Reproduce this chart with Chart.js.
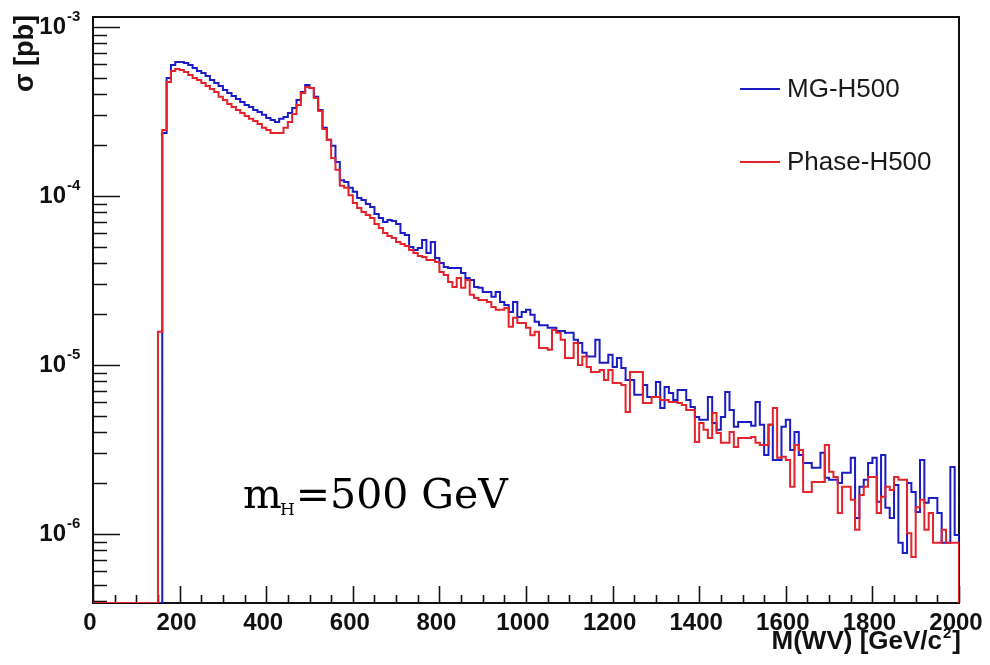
<!DOCTYPE html>
<html lang="en">
<head>
<meta charset="UTF-8">
<title>M(WV) spectrum, mH = 500 GeV</title>
<script src="https://cdn.jsdelivr.net/npm/chart.js"></script>
<style>
  html, body { margin: 0; padding: 0; background: #fff; }
</style>
</head>
<body>
<canvas id="chart" width="990" height="665"></canvas>
<script>
// histogram binning: 200 bins of 10 GeV from 0 to 2000
const binWidth = 10;
const xMin = 0, xMax = 2000;
const yMin = 3.9e-7, yMax = 1.146e-3;

const xTicks = [0, 200, 400, 600, 800, 1000, 1200, 1400, 1600, 1800, 2000];
const yTickExps = [-3, -4, -5, -6];

// sigma [pb] per bin, MadGraph
const mgH500 = [
  0, 0, 0, 0, 0, 0, 0, 0, 0, 0,
  0, 0, 0, 0, 0, 0, 2.36e-4, 4.99e-4, 5.96e-4, 6.21e-4,
  6.21e-4, 6.12e-4, 5.96e-4, 5.72e-4, 5.49e-4, 5.34e-4, 5.13e-4, 4.86e-4, 4.66e-4, 4.48e-4,
  4.24e-4, 4.07e-4, 3.91e-4, 3.75e-4, 3.60e-4, 3.46e-4, 3.36e-4, 3.23e-4, 3.14e-4, 3.02e-4,
  2.89e-4, 2.82e-4, 2.74e-4, 2.86e-4, 2.93e-4, 3.10e-4, 3.32e-4, 3.70e-4, 4.13e-4, 4.54e-4,
  4.36e-4, 3.86e-4, 3.23e-4, 2.53e-4, 2.15e-4, 1.98e-4, 1.59e-4, 1.24e-4, 1.21e-4, 1.12e-4,
  1.06e-4, 9.73e-5, 9.47e-5, 8.97e-5, 8.61e-5, 7.82e-5, 7.41e-5, 7.02e-5, 7.21e-5, 7.11e-5,
  6.83e-5, 6.04e-5, 5.88e-5, 4.99e-5, 4.79e-5, 4.92e-5, 5.49e-5, 4.60e-5, 5.34e-5, 4.30e-5,
  4.01e-5, 3.80e-5, 3.75e-5, 3.75e-5, 3.75e-5, 3.50e-5, 3.27e-5, 3.18e-5, 2.89e-5, 2.86e-5,
  2.70e-5, 2.70e-5, 2.53e-5, 2.70e-5, 2.36e-5, 2.26e-5, 2.06e-5, 2.36e-5, 1.92e-5, 2.06e-5,
  2.12e-5, 1.98e-5, 1.80e-5, 1.72e-5, 1.72e-5, 1.66e-5, 1.66e-5, 1.59e-5, 1.59e-5, 1.55e-5,
  1.55e-5, 1.41e-5, 1.35e-5, 1.18e-5, 1.12e-5, 1.12e-5, 1.41e-5, 1.03e-5, 1.03e-5, 1.15e-5,
  9.73e-6, 1.10e-5, 9.60e-6, 8.15e-6, 8.15e-6, 6.65e-6, 6.65e-6, 7.61e-6, 6.47e-6, 6.47e-6,
  7.93e-6, 5.57e-6, 7.41e-6, 6.83e-6, 6.21e-6, 7.11e-6, 7.11e-6, 6.21e-6, 5.64e-6, 4.92e-6,
  4.73e-6, 4.73e-6, 6.47e-6, 4.54e-6, 4.13e-6, 4.92e-6, 6.92e-6, 5.42e-6, 4.30e-6, 4.60e-6,
  4.60e-6, 4.60e-6, 4.36e-6, 6.04e-6, 4.42e-6, 2.93e-6, 4.42e-6, 2.74e-6, 2.74e-6, 4.30e-6,
  4.73e-6, 3.14e-6, 4.01e-6, 2.93e-6, 2.63e-6, 2.63e-6, 2.46e-6, 2.46e-6, 3.02e-6, 2.15e-6,
  2.09e-6, 2.09e-6, 2.00e-6, 2.30e-6, 2.30e-6, 2.82e-6, 1.24e-6, 1.90e-6, 2.09e-6, 2.63e-6,
  2.82e-6, 1.55e-6, 2.93e-6, 1.43e-6, 1.24e-6, 1.95e-6, 8.85e-7, 7.72e-7, 2.00e-6, 1.77e-6,
  1.35e-6, 2.74e-6, 1.53e-6, 1.63e-6, 1.63e-6, 1.33e-6, 8.85e-7, 8.85e-7, 2.49e-6, 9.86e-7
];

// sigma [pb] per bin, Phantom
const phaseH500 = [
  0, 0, 0, 0, 0, 0, 0, 0, 0, 0,
  0, 0, 0, 0, 0, 1.57e-5, 2.46e-4, 4.73e-4, 5.49e-4, 5.64e-4,
  5.57e-4, 5.42e-4, 5.20e-4, 4.99e-4, 4.86e-4, 4.66e-4, 4.48e-4, 4.30e-4, 4.13e-4, 3.86e-4,
  3.70e-4, 3.50e-4, 3.36e-4, 3.23e-4, 3.10e-4, 2.97e-4, 2.86e-4, 2.78e-4, 2.67e-4, 2.53e-4,
  2.46e-4, 2.36e-4, 2.36e-4, 2.36e-4, 2.53e-4, 2.74e-4, 3.06e-4, 3.46e-4, 4.07e-4, 4.42e-4,
  4.36e-4, 3.80e-4, 3.18e-4, 2.49e-4, 2.15e-4, 1.68e-4, 1.43e-4, 1.15e-4, 1.12e-4, 1.01e-4,
  9.09e-5, 8.49e-5, 8.04e-5, 7.72e-5, 7.41e-5, 6.83e-5, 6.47e-5, 6.04e-5, 5.80e-5, 5.64e-5,
  5.34e-5, 5.20e-5, 5.06e-5, 4.79e-5, 4.60e-5, 4.42e-5, 4.36e-5, 4.18e-5, 4.18e-5, 4.07e-5,
  3.55e-5, 3.41e-5, 3.10e-5, 2.89e-5, 3.27e-5, 2.86e-5, 3.18e-5, 2.60e-5, 2.49e-5, 2.42e-5,
  2.42e-5, 2.36e-5, 2.20e-5, 2.12e-5, 2.12e-5, 2.17e-5, 1.68e-5, 1.90e-5, 1.77e-5, 1.77e-5,
  1.66e-5, 1.50e-5, 1.57e-5, 1.26e-5, 1.26e-5, 1.23e-5, 1.61e-5, 1.55e-5, 1.41e-5, 1.10e-5,
  1.10e-5, 1.35e-5, 1.00e-5, 1.12e-5, 9.73e-6, 9.09e-6, 9.09e-6, 9.34e-6, 8.15e-6, 9.34e-6,
  7.82e-6, 7.82e-6, 7.61e-6, 5.27e-6, 9.09e-6, 9.09e-6, 9.09e-6, 5.96e-6, 5.96e-6, 6.47e-6,
  6.47e-6, 6.21e-6, 6.21e-6, 6.04e-6, 6.04e-6, 5.96e-6, 5.80e-6, 5.42e-6, 5.42e-6, 3.50e-6,
  4.54e-6, 4.13e-6, 3.70e-6, 5.20e-6, 3.96e-6, 3.46e-6, 3.46e-6, 4.01e-6, 3.27e-6, 3.70e-6,
  3.70e-6, 3.70e-6, 3.75e-6, 3.46e-6, 3.36e-6, 3.36e-6, 4.42e-6, 5.57e-6, 2.82e-6, 2.86e-6,
  2.74e-6, 1.90e-6, 3.36e-6, 3.14e-6, 1.77e-6, 1.77e-6, 2.03e-6, 2.03e-6, 2.03e-6, 3.36e-6,
  2.33e-6, 2.17e-6, 1.33e-6, 1.90e-6, 1.90e-6, 1.59e-6, 1.06e-6, 1.70e-6, 1.90e-6, 2.17e-6,
  2.17e-6, 1.33e-6, 1.66e-6, 1.90e-6, 1.82e-6, 2.17e-6, 2.09e-6, 2.09e-6, 1.01e-6, 7.31e-7,
  1.44e-6, 1.59e-6, 1.06e-6, 1.33e-6, 8.85e-7, 8.85e-7, 1.06e-6, 8.85e-7, 8.85e-7, 8.85e-7
];

const blue = '#1c1cc4';
const red = '#e4232b';
const font = '"Liberation Sans", Arial, sans-serif';

// ROOT style outline: empty bins sit on the frame, and the contour closes at 2000
function histPoints(vals) {
  const pts = vals.map((v, i) => ({ x: i * binWidth, y: v > 0 ? v : yMin }));
  pts.push({ x: xMax, y: yMin });
  return pts;
}

const rootFrame = {
  id: 'rootFrame',
  beforeDatasetsDraw(chart) {
    const { ctx, chartArea: a, scales: { x, y } } = chart;
    ctx.save();
    ctx.strokeStyle = '#111';
    ctx.lineWidth = 2;
    ctx.strokeRect(a.left, a.top, a.right - a.left, a.bottom - a.top);

    ctx.lineWidth = 1.6;
    ctx.beginPath();
    for (let v = xMin; v <= xMax; v += 50) {
      const px = Math.round(x.getPixelForValue(v)) + 0.5;
      const len = v % 200 === 0 ? 17 : 8;
      ctx.moveTo(px, a.bottom);
      ctx.lineTo(px, a.bottom - len);
    }
    for (let e = -7; e <= -3; e++) {
      for (let m = 1; m <= 9; m++) {
        const v = m * Math.pow(10, e);
        if (v < yMin || v > yMax) continue;
        const py = Math.round(y.getPixelForValue(v)) + 0.5;
        const len = m === 1 ? 27 : 14;
        ctx.moveTo(a.left, py);
        ctx.lineTo(a.left + len, py);
      }
    }
    ctx.stroke();
    ctx.restore();
  },
  afterDraw(chart) {
    const { ctx, chartArea: a, scales: { x, y } } = chart;
    ctx.save();
    ctx.fillStyle = '#111';

    // x tick labels
    ctx.font = 'bold 24px ' + font;
    ctx.textAlign = 'center';
    ctx.textBaseline = 'middle';
    xTicks.forEach(v => ctx.fillText(String(v), x.getPixelForValue(v) - 3, 623));

    // y tick labels 10^n
    yTickExps.forEach(e => {
      const py = y.getPixelForValue(Math.pow(10, e));
      ctx.font = 'bold 24px ' + font;
      ctx.textAlign = 'right';
      ctx.fillText('10', 66, py);
      ctx.font = 'bold 15px ' + font;
      ctx.textAlign = 'left';
      ctx.fillText(String(e), 67, py - 10);
    });

    // x axis title, right aligned
    ctx.textAlign = 'right';
    ctx.textBaseline = 'alphabetic';
    ctx.font = 'bold 26px ' + font;
    ctx.fillText(']', a.right + 2, 649);
    const wBr = ctx.measureText(']').width;
    ctx.font = 'bold 15px ' + font;
    ctx.fillText('2', a.right + 1 - wBr, 638);
    const w2 = ctx.measureText('2').width;
    ctx.font = 'bold 26px ' + font;
    ctx.fillText('M(WV) [GeV/c', a.right - wBr - w2, 649);

    // y axis title, rotated
    ctx.save();
    ctx.translate(33, 15);
    ctx.rotate(-Math.PI / 2);
    ctx.textAlign = 'right';
    ctx.textBaseline = 'alphabetic';
    ctx.font = 'bold 27px ' + font;
    ctx.fillText('\u03c3 [pb]', 0, 0);
    ctx.restore();

    // legend
    const legend = [
      { label: 'MG-H500', color: blue, y: 89 },
      { label: 'Phase-H500', color: red, y: 162 }
    ];
    legend.forEach(item => {
      ctx.strokeStyle = item.color;
      ctx.lineWidth = 2;
      ctx.beginPath();
      ctx.moveTo(740, item.y);
      ctx.lineTo(780, item.y);
      ctx.stroke();
      ctx.fillStyle = '#1a1a1a';
      ctx.font = '26px ' + font;
      ctx.textAlign = 'left';
      ctx.textBaseline = 'middle';
      ctx.fillText(item.label, 787, item.y + 1);
    });

    // Higgs mass annotation
    ctx.fillStyle = '#000';
    ctx.textBaseline = 'alphabetic';
    ctx.textAlign = 'left';
    ctx.font = '41px "DejaVu Serif", serif';
    ctx.fillText('m', 243, 508);
    const wm = ctx.measureText('m').width;
    ctx.font = '17px "DejaVu Serif", serif';
    ctx.fillText('H', 241 + wm, 515);
    const wh = ctx.measureText('H').width;
    ctx.font = '41px "DejaVu Serif", serif';
    ctx.fillText('=500 GeV', 242 + wm + wh, 508);

    ctx.restore();
  }
};

const ctx = document.getElementById('chart').getContext('2d');

new Chart(ctx, {
  type: 'line',
  data: {
    datasets: [
      { label: 'MG-H500', data: histPoints(mgH500), borderColor: blue, borderWidth: 2,
        stepped: true, pointRadius: 0, fill: false, order: 2 },
      { label: 'Phase-H500', data: histPoints(phaseH500), borderColor: red, borderWidth: 2,
        stepped: true, pointRadius: 0, fill: false, order: 1 }
    ]
  },
  options: {
    responsive: false,
    animation: false,
    devicePixelRatio: 1,
    layout: { padding: { left: 93, right: 31, top: 17, bottom: 62 } },
    scales: {
      x: { type: 'linear', min: xMin, max: xMax, display: false },
      y: { type: 'logarithmic', min: yMin, max: yMax, display: false }
    },
    plugins: {
      legend: { display: false },
      tooltip: { enabled: false }
    }
  },
  plugins: [rootFrame]
});
</script>
</body>
</html>
